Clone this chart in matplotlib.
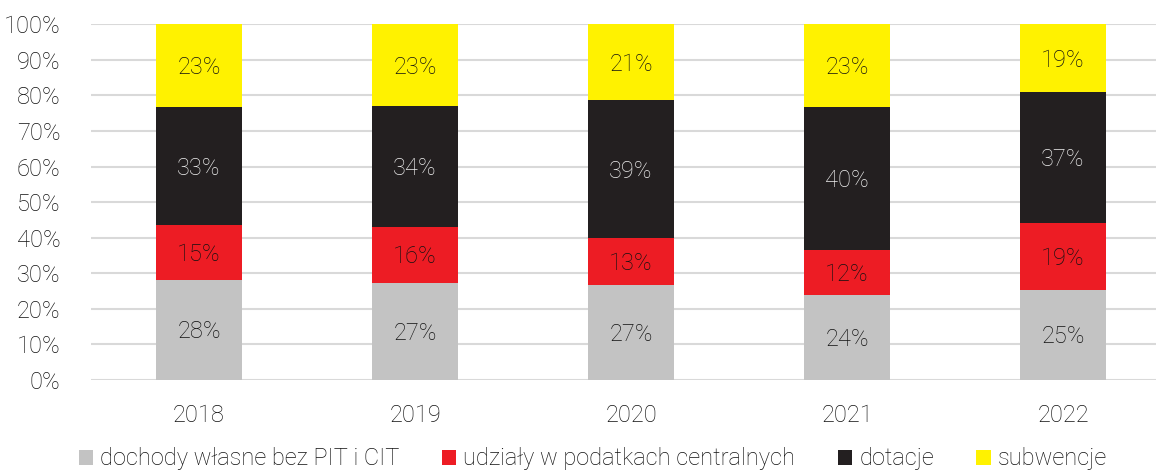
import matplotlib
matplotlib.use("Agg")
import matplotlib.pyplot as plt
import numpy as np

plt.rcParams['font.family'] = ['Roboto', 'DejaVu Sans']

# data (shares in %)
years = ["2018", "2019", "2020", "2021", "2022"]
own_income = [28.2, 27.3, 26.7, 24.0, 25.4]
tax_shares = [15.3, 15.6, 13.2, 12.5, 18.7]
grants = [33.2, 34.1, 38.7, 40.3, 36.8]
subsidies = [23.3, 23.0, 21.4, 23.2, 19.1]

series_names = ["dochody własne bez PIT i CIT", "udziały w podatkach centralnych",
                "dotacje", "subwencje"]
colors = ["#c3c3c3", "#ed1c24", "#231f20", "#fff200"]
text_colors = ["#111111", "#111111", "#f0f0f0", "#111111"]

FS = 17

fig = plt.figure(figsize=(11.56, 4.75), dpi=100)
ax = fig.add_axes([0.0787, 0.2, 0.9213, 0.7488])

x = np.arange(len(years))
bottom = np.zeros(len(years))
handles = []
for vals, name, col, tcol in zip([own_income, tax_shares, grants, subsidies],
                                 series_names, colors, text_colors):
    vals = np.array(vals)
    bars = ax.bar(x, vals, 0.4, bottom=bottom, color=col, label=name, zorder=3)
    handles.append(bars)
    for xi, b, v in zip(x, bottom, vals):
        ax.text(xi, b + v / 2 - 0.5, f"{round(v):.0f}%", ha="center", va="center",
                fontsize=FS, color=tcol, fontweight="light", zorder=4)
    bottom += vals

ax.set_ylim(0, 100)
ax.set_xlim(-0.5, 4.43)
ax.set_yticks(np.arange(0, 101, 10))
ax.set_yticklabels([f"{t}%" for t in range(0, 101, 10)])
ax.set_xticks(x)
ax.set_xticklabels(years)
ax.yaxis.grid(True, color="#d9d9d9", linewidth=1.5, zorder=0)
ax.set_axisbelow(True)
for s in ax.spines.values():
    s.set_visible(False)
ax.tick_params(axis="both", length=0, labelsize=FS, colors="#111111")
ax.tick_params(axis="y", pad=22)
ax.tick_params(axis="x", pad=17)
for lbl in ax.get_xticklabels() + ax.get_yticklabels():
    lbl.set_fontweight("light")

leg = fig.legend(handles=handles, loc="center", bbox_to_anchor=(0.513, 0.034),
                 ncol=4, frameon=False, handlelength=0.6,
                 handleheight=0.6, handletextpad=0.3, columnspacing=1.8,
                 prop={"size": FS, "weight": "light"})
for t in leg.get_texts():
    t.set_color("#111111")

fig.savefig("out.png", dpi=100)
